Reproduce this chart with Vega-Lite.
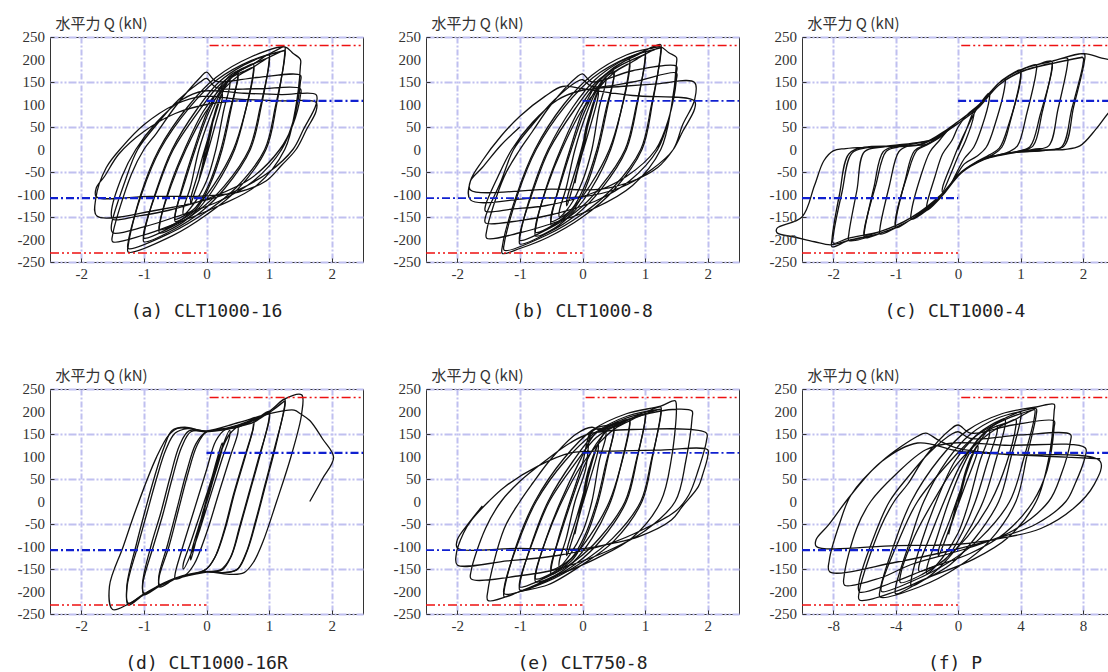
{
"$schema":"https://vega.github.io/schema/vega-lite/v6.json",
"background":"white",
"padding":{"left":17,"top":15,"right":0,"bottom":0},
"spacing":45,
"config":{
 "view":{"stroke":"#333","strokeWidth":1},
 "axis":{"labelFont":"Liberation Serif","labelFontSize":15,"labelColor":"#333","gridColor":"#c0c0f0","gridWidth":2,"tickColor":"#333","tickSize":-4,"labelPadding":8,"domain":false,"labelFlush":false,"labelOverlap":false,"titleFont":"Noto Sans CJK JP","titleFontWeight":"normal","titleColor":"#333","titleFontSize":15},
 "title":{"orient":"bottom","font":"DejaVu Sans Mono","fontSize":18,"fontWeight":"normal","color":"#222","offset":22,"anchor":"middle"},
 "line":{"color":"#111","strokeWidth":1.3,"interpolate":"catmull-rom","clip":true}
},
"datasets":{
"yl":[{"v":-250},{"v":-200},{"v":-150},{"v":-100},{"v":-50},{"v":0},{"v":50},{"v":100},{"v":150},{"v":200},{"v":250}],
"refR":[{"x1":0.05,"x2":2.5,"y":231},{"x1":-2.5,"x2":0,"y":-230}],
"refB":[{"x1":0,"x2":2.5,"y":108},{"x1":-2.5,"x2":0,"y":-108}],
"refRf":[{"x1":0.2,"x2":10,"y":231},{"x1":-10,"x2":0,"y":-230}],
"refBf":[{"x1":0,"x2":10,"y":108},{"x1":-10,"x2":0,"y":-108}],
"a":[{"x":0,"y":0},{"x":0.05,"y":40},{"x":0.12,"y":75},
{"x":0.1,"y":60},{"x":0.0,"y":10},{"x":-0.08,"y":-45},{"x":-0.12,"y":-70},{"x":-0.1,"y":-55},{"x":0.0,"y":-5},{"x":0.08,"y":45},{"x":0.12,"y":75},{"x":0.2,"y":110},{"x":0.25,"y":125},
{"x":0.25,"y":112},{"x":0.15,"y":60},{"x":0.05,"y":10},{"x":-0.1,"y":-60},{"x":-0.2,"y":-100},{"x":-0.25,"y":-120},{"x":-0.25,"y":-108},{"x":-0.15,"y":-60},{"x":-0.05,"y":-10},{"x":0.1,"y":60},{"x":0.2,"y":105},{"x":0.25,"y":125},{"x":0.3,"y":140},{"x":0.37,"y":155},
{"x":0.37,"y":140},{"x":0.28,"y":90},{"x":0.15,"y":0},{"x":0.0,"y":-70},{"x":-0.2,"y":-120},{"x":-0.37,"y":-145},{"x":-0.37,"y":-132},{"x":-0.26,"y":-85},{"x":-0.12,"y":0},{"x":0.05,"y":70},{"x":0.22,"y":125},{"x":0.37,"y":155},{"x":0.45,"y":168},{"x":0.5,"y":175},
{"x":0.5,"y":160},{"x":0.4,"y":95},{"x":0.25,"y":0},{"x":0.05,"y":-80},{"x":-0.15,"y":-130},{"x":-0.35,"y":-152},{"x":-0.5,"y":-160},{"x":-0.5,"y":-146},{"x":-0.38,"y":-80},{"x":-0.2,"y":0},{"x":0.0,"y":80},{"x":0.2,"y":135},{"x":0.38,"y":165},{"x":0.5,"y":175},{"x":0.62,"y":183},{"x":0.75,"y":190},
{"x":0.75,"y":175},{"x":0.63,"y":90},{"x":0.45,"y":0},{"x":0.15,"y":-80},{"x":-0.15,"y":-135},{"x":-0.45,"y":-168},{"x":-0.75,"y":-185},{"x":-0.75,"y":-170},{"x":-0.58,"y":-80},{"x":-0.35,"y":0},{"x":-0.05,"y":85},{"x":0.25,"y":140},{"x":0.5,"y":172},{"x":0.75,"y":190},{"x":0.88,"y":202},{"x":1.0,"y":212},
{"x":1.0,"y":197},{"x":0.88,"y":100},{"x":0.7,"y":0},{"x":0.3,"y":-85},{"x":-0.1,"y":-140},{"x":-0.55,"y":-180},{"x":-1.0,"y":-205},{"x":-1.0,"y":-190},{"x":-0.8,"y":-90},{"x":-0.55,"y":0},{"x":-0.15,"y":90},{"x":0.2,"y":150},{"x":0.6,"y":188},{"x":1.0,"y":212},{"x":1.12,"y":221},{"x":1.25,"y":228},
{"x":1.25,"y":213},{"x":1.12,"y":100},{"x":0.95,"y":0},{"x":0.5,"y":-88},{"x":0.0,"y":-145},{"x":-0.55,"y":-192},{"x":-1.25,"y":-228},{"x":-1.25,"y":-213},{"x":-1.05,"y":-100},{"x":-0.76,"y":0},{"x":-0.3,"y":95},{"x":0.15,"y":160},{"x":0.7,"y":205},{"x":1.25,"y":228},{"x":1.38,"y":214},{"x":1.5,"y":200},
{"x":1.5,"y":185},{"x":1.42,"y":90},{"x":1.25,"y":0},{"x":0.8,"y":-80},{"x":0.2,"y":-125},{"x":-0.5,"y":-165},{"x":-1.0,"y":-190},{"x":-1.5,"y":-205},{"x":-1.5,"y":-190},{"x":-1.2,"y":-55},{"x":-1.0,"y":0},{"x":-0.8,"y":36},{"x":-0.5,"y":95},{"x":-0.1,"y":160},{"x":0.0,"y":172},{"x":0.15,"y":152},{"x":0.8,"y":160},{"x":1.5,"y":165},
{"x":1.5,"y":150},{"x":1.4,"y":70},{"x":1.2,"y":0},{"x":0.75,"y":-70},{"x":0.2,"y":-115},{"x":-0.5,"y":-150},{"x":-1.0,"y":-172},{"x":-1.5,"y":-185},{"x":-1.52,"y":-170},{"x":-1.3,"y":-70},{"x":-1.1,"y":0},{"x":-0.8,"y":55},{"x":-0.45,"y":110},{"x":-0.1,"y":150},{"x":0.0,"y":158},{"x":0.15,"y":138},{"x":0.8,"y":135},{"x":1.5,"y":135},
{"x":1.5,"y":120},{"x":1.38,"y":55},{"x":1.17,"y":0},{"x":0.7,"y":-65},{"x":0.1,"y":-105},{"x":-0.6,"y":-135},{"x":-1.1,"y":-148},{"x":-1.5,"y":-155},{"x":-1.52,"y":-140},{"x":-1.35,"y":-60},{"x":-1.13,"y":0},{"x":-0.8,"y":60},{"x":-0.4,"y":110},{"x":-0.05,"y":130},{"x":0.6,"y":125},{"x":1.2,"y":122},{"x":1.75,"y":122},
{"x":1.75,"y":100},{"x":1.55,"y":45},{"x":1.38,"y":0},{"x":1.0,"y":-50},{"x":0.5,"y":-90},{"x":0.0,"y":-112},{"x":-0.8,"y":-135},{"x":-1.75,"y":-148},{"x":-1.77,"y":-110},{"x":-1.6,"y":-40},{"x":-1.34,"y":7},{"x":-1.0,"y":55},{"x":-0.5,"y":100},{"x":-0.07,"y":118},{"x":0.5,"y":112},{"x":1.2,"y":108},{"x":1.75,"y":105},
{"x":1.75,"y":85},{"x":1.6,"y":45},{"x":1.43,"y":0},{"x":1.2,"y":-35},{"x":0.95,"y":-70},{"x":0.5,"y":-95},{"x":0.0,"y":-103},{"x":-0.9,"y":-104},{"x":-1.76,"y":-105},{"x":-1.76,"y":-85},{"x":-1.63,"y":-60},{"x":-1.4,"y":-10},{"x":-1.0,"y":40},{"x":-0.5,"y":80},{"x":0.0,"y":100},{"x":0.5,"y":108}],
"a2":[{"x":0.5,"y":168},{"x":0.5,"y":155},{"x":0.38,"y":90},{"x":0.23,"y":0},{"x":0.03,"y":-80},{"x":-0.17,"y":-128},{"x":-0.37,"y":-148},{"x":-0.5,"y":-155},{"x":-0.5,"y":-142},{"x":-0.36,"y":-78},{"x":-0.18,"y":0},{"x":0.02,"y":78},{"x":0.22,"y":130},{"x":0.4,"y":160},{"x":0.5,"y":168},
{"x":0.62,"y":175},{"x":0.75,"y":182},{"x":0.75,"y":168},{"x":0.62,"y":85},{"x":0.43,"y":0},{"x":0.12,"y":-78},{"x":-0.18,"y":-130},{"x":-0.47,"y":-162},{"x":-0.75,"y":-178},{"x":-0.75,"y":-164},{"x":-0.56,"y":-78},{"x":-0.33,"y":0},{"x":-0.02,"y":82},{"x":0.28,"y":135},{"x":0.52,"y":165},{"x":0.75,"y":183},
{"x":0.88,"y":195},{"x":1.0,"y":204},{"x":1.0,"y":190},{"x":0.86,"y":95},{"x":0.68,"y":0},{"x":0.28,"y":-82},{"x":-0.12,"y":-135},{"x":-0.57,"y":-173},{"x":-1.0,"y":-197},{"x":-1.0,"y":-183},{"x":-0.78,"y":-86},{"x":-0.53,"y":0},{"x":-0.12,"y":86},{"x":0.22,"y":145},{"x":0.62,"y":182},{"x":1.0,"y":205},
{"x":1.12,"y":213},{"x":1.25,"y":220},{"x":1.25,"y":205},{"x":1.1,"y":95},{"x":0.93,"y":0},{"x":0.48,"y":-84},{"x":-0.02,"y":-140},{"x":-0.57,"y":-185},{"x":-1.25,"y":-220},{"x":-1.25,"y":-205},{"x":-1.03,"y":-96},{"x":-0.74,"y":0},{"x":-0.28,"y":92},{"x":0.17,"y":155},{"x":0.72,"y":198},{"x":1.25,"y":220}],
"b":[{"x":0,"y":0},{"x":0.05,"y":45},{"x":0.12,"y":80},
{"x":0.1,"y":65},{"x":0.0,"y":10},{"x":-0.08,"y":-45},{"x":-0.12,"y":-75},{"x":-0.1,"y":-60},{"x":0.0,"y":-5},{"x":0.08,"y":50},{"x":0.12,"y":80},{"x":0.2,"y":115},{"x":0.25,"y":130},
{"x":0.25,"y":118},{"x":0.1,"y":40},{"x":-0.05,"y":-30},{"x":-0.18,"y":-95},{"x":-0.25,"y":-125},{"x":-0.25,"y":-112},{"x":-0.1,"y":-40},{"x":0.05,"y":35},{"x":0.18,"y":100},{"x":0.25,"y":130},{"x":0.3,"y":145},{"x":0.37,"y":160},
{"x":0.37,"y":147},{"x":0.27,"y":95},{"x":0.15,"y":0},{"x":0.0,"y":-70},{"x":-0.2,"y":-125},{"x":-0.37,"y":-150},{"x":-0.37,"y":-137},{"x":-0.26,"y":-85},{"x":-0.12,"y":0},{"x":0.05,"y":75},{"x":0.22,"y":130},{"x":0.37,"y":160},{"x":0.45,"y":170},{"x":0.5,"y":175},
{"x":0.5,"y":160},{"x":0.4,"y":95},{"x":0.25,"y":0},{"x":0.05,"y":-85},{"x":-0.15,"y":-135},{"x":-0.35,"y":-158},{"x":-0.5,"y":-168},{"x":-0.5,"y":-153},{"x":-0.38,"y":-85},{"x":-0.2,"y":0},{"x":0.0,"y":85},{"x":0.2,"y":140},{"x":0.38,"y":168},{"x":0.5,"y":180},{"x":0.62,"y":192},{"x":0.75,"y":200},
{"x":0.75,"y":185},{"x":0.63,"y":95},{"x":0.45,"y":0},{"x":0.15,"y":-85},{"x":-0.15,"y":-140},{"x":-0.45,"y":-175},{"x":-0.75,"y":-192},{"x":-0.75,"y":-177},{"x":-0.58,"y":-85},{"x":-0.35,"y":0},{"x":-0.05,"y":90},{"x":0.25,"y":150},{"x":0.5,"y":182},{"x":0.75,"y":202},{"x":0.88,"y":210},{"x":1.0,"y":218},
{"x":1.0,"y":203},{"x":0.88,"y":105},{"x":0.7,"y":0},{"x":0.3,"y":-88},{"x":-0.1,"y":-145},{"x":-0.55,"y":-185},{"x":-1.0,"y":-210},{"x":-1.0,"y":-195},{"x":-0.8,"y":-90},{"x":-0.55,"y":0},{"x":-0.15,"y":95},{"x":0.2,"y":155},{"x":0.6,"y":195},{"x":1.0,"y":220},{"x":1.12,"y":228},{"x":1.25,"y":233},
{"x":1.25,"y":218},{"x":1.12,"y":105},{"x":0.95,"y":0},{"x":0.5,"y":-90},{"x":0.0,"y":-150},{"x":-0.55,"y":-195},{"x":-1.0,"y":-220},{"x":-1.28,"y":-231},{"x":-1.28,"y":-215},{"x":-1.05,"y":-100},{"x":-0.76,"y":0},{"x":-0.3,"y":100},{"x":0.15,"y":165},{"x":0.7,"y":210},{"x":1.1,"y":225},{"x":1.25,"y":228},{"x":1.38,"y":215},{"x":1.5,"y":205},
{"x":1.5,"y":190},{"x":1.42,"y":95},{"x":1.25,"y":0},{"x":0.8,"y":-80},{"x":0.2,"y":-130},{"x":-0.5,"y":-165},{"x":-1.0,"y":-185},{"x":-1.53,"y":-197},{"x":-1.53,"y":-180},{"x":-1.25,"y":-60},{"x":-1.0,"y":0},{"x":-0.8,"y":40},{"x":-0.5,"y":100},{"x":-0.1,"y":160},{"x":0.0,"y":168},{"x":0.15,"y":150},{"x":0.8,"y":175},{"x":1.5,"y":185},
{"x":1.5,"y":170},{"x":1.4,"y":80},{"x":1.2,"y":0},{"x":0.75,"y":-70},{"x":0.2,"y":-115},{"x":-0.5,"y":-145},{"x":-1.0,"y":-158},{"x":-1.55,"y":-163},{"x":-1.55,"y":-150},{"x":-1.3,"y":-70},{"x":-1.1,"y":0},{"x":-0.8,"y":55},{"x":-0.45,"y":110},{"x":-0.1,"y":150},{"x":0.0,"y":155},{"x":0.15,"y":140},{"x":0.8,"y":150},{"x":1.5,"y":170},
{"x":1.5,"y":155},{"x":1.38,"y":70},{"x":1.17,"y":0},{"x":0.7,"y":-60},{"x":0.1,"y":-100},{"x":-0.6,"y":-125},{"x":-1.1,"y":-132},{"x":-1.55,"y":-137},{"x":-1.55,"y":-125},{"x":-1.35,"y":-60},{"x":-1.13,"y":0},{"x":-0.8,"y":60},{"x":-0.4,"y":110},{"x":-0.05,"y":130},{"x":0.6,"y":140},{"x":1.2,"y":146},{"x":1.79,"y":149},
{"x":1.79,"y":110},{"x":1.6,"y":55},{"x":1.45,"y":0},{"x":1.1,"y":-45},{"x":0.6,"y":-85},{"x":0.0,"y":-105},{"x":-0.8,"y":-108},{"x":-1.79,"y":-112},{"x":-1.79,"y":-70},{"x":-1.6,"y":-25},{"x":-1.3,"y":30},{"x":-1.0,"y":74},{"x":-0.6,"y":118},{"x":-0.32,"y":140},{"x":0.0,"y":135},{"x":0.8,"y":120},{"x":1.79,"y":108},
{"x":1.79,"y":90},{"x":1.6,"y":40},{"x":1.45,"y":0},{"x":1.2,"y":-40},{"x":0.8,"y":-70},{"x":0.3,"y":-88},{"x":-0.5,"y":-88},{"x":-1.79,"y":-90},{"x":-1.79,"y":-70},{"x":-1.6,"y":-40},{"x":-1.3,"y":10},{"x":-1.0,"y":50}],
"b2":[{"x":0.5,"y":172},{"x":0.5,"y":158},{"x":0.38,"y":92},{"x":0.23,"y":0},{"x":0.03,"y":-82},{"x":-0.17,"y":-132},{"x":-0.37,"y":-153},{"x":-0.5,"y":-160},{"x":-0.5,"y":-146},{"x":-0.36,"y":-80},{"x":-0.18,"y":0},{"x":0.02,"y":80},{"x":0.22,"y":134},{"x":0.4,"y":165},{"x":0.5,"y":172},
{"x":0.62,"y":182},{"x":0.75,"y":190},{"x":0.75,"y":176},{"x":0.62,"y":88},{"x":0.43,"y":0},{"x":0.12,"y":-80},{"x":-0.18,"y":-135},{"x":-0.47,"y":-168},{"x":-0.75,"y":-184},{"x":-0.75,"y":-170},{"x":-0.56,"y":-80},{"x":-0.33,"y":0},{"x":-0.02,"y":85},{"x":0.28,"y":140},{"x":0.52,"y":172},{"x":0.75,"y":191},
{"x":0.88,"y":202},{"x":1.0,"y":210},{"x":1.0,"y":196},{"x":0.86,"y":98},{"x":0.68,"y":0},{"x":0.28,"y":-84},{"x":-0.12,"y":-140},{"x":-0.57,"y":-178},{"x":-1.0,"y":-202},{"x":-1.0,"y":-188},{"x":-0.78,"y":-88},{"x":-0.53,"y":0},{"x":-0.12,"y":90},{"x":0.22,"y":150},{"x":0.62,"y":188},{"x":1.0,"y":212},
{"x":1.12,"y":220},{"x":1.25,"y":226},{"x":1.25,"y":211},{"x":1.1,"y":98},{"x":0.93,"y":0},{"x":0.48,"y":-86},{"x":-0.02,"y":-145},{"x":-0.57,"y":-190},{"x":-1.25,"y":-224},{"x":-1.25,"y":-209},{"x":-1.03,"y":-98},{"x":-0.74,"y":0},{"x":-0.28,"y":96},{"x":0.17,"y":160},{"x":0.72,"y":204},{"x":1.25,"y":226}],
"c":[{"x":0,"y":0},{"x":0.12,"y":40},{"x":0.25,"y":85},
{"x":0.25,"y":75},{"x":0.12,"y":20},{"x":0.0,"y":-15},{"x":-0.12,"y":-55},{"x":-0.25,"y":-95},
{"x":-0.25,"y":-85},{"x":-0.1,"y":-30},{"x":0.0,"y":5},{"x":0.15,"y":50},{"x":0.32,"y":95},{"x":0.5,"y":125},
{"x":0.5,"y":112},{"x":0.38,"y":50},{"x":0.25,"y":5},{"x":0.1,"y":-20},{"x":0.0,"y":-45},{"x":-0.15,"y":-85},{"x":-0.3,"y":-110},{"x":-0.5,"y":-135},
{"x":-0.5,"y":-122},{"x":-0.37,"y":-60},{"x":-0.25,"y":-10},{"x":-0.1,"y":20},{"x":0.0,"y":50},{"x":0.15,"y":78},{"x":0.32,"y":98},{"x":0.5,"y":125},{"x":0.65,"y":147},{"x":0.75,"y":158},
{"x":0.75,"y":143},{"x":0.6,"y":60},{"x":0.45,"y":5},{"x":0.3,"y":-15},{"x":0.1,"y":-32},{"x":-0.1,"y":-75},{"x":-0.27,"y":-104},{"x":-0.5,"y":-135},{"x":-0.75,"y":-155},
{"x":-0.75,"y":-140},{"x":-0.6,"y":-60},{"x":-0.45,"y":-5},{"x":-0.3,"y":20},{"x":-0.15,"y":45},{"x":0.0,"y":62},{"x":0.15,"y":78},{"x":0.32,"y":95},{"x":0.5,"y":125},{"x":0.65,"y":147},{"x":0.8,"y":163},{"x":1.0,"y":177},
{"x":1.0,"y":162},{"x":0.85,"y":70},{"x":0.7,"y":5},{"x":0.55,"y":-12},{"x":0.3,"y":-28},{"x":0.05,"y":-52},{"x":-0.27,"y":-104},{"x":-0.5,"y":-135},{"x":-0.76,"y":-156},{"x":-1.0,"y":-174},
{"x":-1.0,"y":-160},{"x":-0.85,"y":-70},{"x":-0.7,"y":-3},{"x":-0.5,"y":12},{"x":-0.3,"y":28},{"x":-0.17,"y":45},{"x":0.0,"y":62},{"x":0.32,"y":95},{"x":0.65,"y":147},{"x":0.8,"y":163},{"x":1.0,"y":176},{"x":1.25,"y":188},
{"x":1.25,"y":173},{"x":1.1,"y":80},{"x":0.95,"y":8},{"x":0.8,"y":-6},{"x":0.42,"y":-22},{"x":0.05,"y":-52},{"x":-0.27,"y":-104},{"x":-0.76,"y":-156},{"x":-1.0,"y":-174},{"x":-1.25,"y":-188},
{"x":-1.25,"y":-174},{"x":-1.1,"y":-80},{"x":-0.95,"y":-5},{"x":-0.8,"y":8},{"x":-0.5,"y":12},{"x":-0.17,"y":45},{"x":0.0,"y":62},{"x":0.32,"y":95},{"x":0.65,"y":147},{"x":1.0,"y":177},{"x":1.25,"y":188},{"x":1.5,"y":196},
{"x":1.5,"y":180},{"x":1.35,"y":85},{"x":1.2,"y":8},{"x":1.0,"y":-3},{"x":0.42,"y":-20},{"x":0.05,"y":-52},{"x":-0.27,"y":-104},{"x":-0.76,"y":-156},{"x":-1.24,"y":-186},{"x":-1.5,"y":-196},
{"x":-1.5,"y":-182},{"x":-1.35,"y":-85},{"x":-1.2,"y":-5},{"x":-1.0,"y":7},{"x":-0.35,"y":25},{"x":-0.17,"y":45},{"x":0.0,"y":62},{"x":0.32,"y":95},{"x":0.65,"y":147},{"x":1.0,"y":177},{"x":1.5,"y":196},{"x":1.75,"y":203},
{"x":1.75,"y":188},{"x":1.6,"y":90},{"x":1.45,"y":8},{"x":1.2,"y":0},{"x":0.42,"y":-22},{"x":0.05,"y":-52},{"x":-0.27,"y":-104},{"x":-0.76,"y":-156},{"x":-1.24,"y":-186},{"x":-1.75,"y":-202},
{"x":-1.75,"y":-188},{"x":-1.62,"y":-90},{"x":-1.5,"y":-5},{"x":-1.2,"y":6},{"x":-0.35,"y":25},{"x":0.0,"y":62},{"x":0.32,"y":95},{"x":0.65,"y":147},{"x":1.0,"y":177},{"x":1.5,"y":196},{"x":2.02,"y":212},
{"x":2.02,"y":195},{"x":1.85,"y":95},{"x":1.7,"y":8},{"x":1.45,"y":-1},{"x":0.8,"y":-8},{"x":0.42,"y":-22},{"x":0.05,"y":-52},{"x":-0.27,"y":-104},{"x":-0.76,"y":-156},{"x":-1.24,"y":-186},{"x":-1.75,"y":-202},{"x":-2.02,"y":-216},
{"x":-2.02,"y":-200},{"x":-1.9,"y":-100},{"x":-1.75,"y":-10},{"x":-1.5,"y":5},{"x":-0.6,"y":12},{"x":-0.17,"y":45},{"x":0.0,"y":62},{"x":0.32,"y":95},{"x":0.65,"y":147},{"x":1.0,"y":177},{"x":1.5,"y":196},{"x":2.02,"y":213},
{"x":2.3,"y":203},{"x":2.6,"y":195},{"x":2.9,"y":185},{"x":2.9,"y":160},{"x":2.6,"y":110},{"x":2.4,"y":80},{"x":2.2,"y":44},{"x":1.95,"y":8},{"x":1.7,"y":0},{"x":1.2,"y":-2},{"x":0.42,"y":-22},{"x":0.05,"y":-52},{"x":-0.27,"y":-104},{"x":-0.76,"y":-156},{"x":-1.24,"y":-186},{"x":-1.75,"y":-202},{"x":-2.04,"y":-212},{"x":-2.3,"y":-205},{"x":-2.6,"y":-195},{"x":-2.9,"y":-185},
{"x":-2.9,"y":-175},{"x":-2.5,"y":-150},{"x":-2.3,"y":-80},{"x":-2.15,"y":-25},{"x":-2.0,"y":-3},{"x":-1.8,"y":2},{"x":-1.0,"y":8}],
"c2":[{"x":1.0,"y":170},{"x":1.0,"y":155},{"x":0.82,"y":60},{"x":0.66,"y":3},{"x":0.5,"y":-12},{"x":0.3,"y":-27},{"x":0.05,"y":-50},{"x":-0.27,"y":-100},{"x":-0.5,"y":-130},{"x":-0.76,"y":-152},{"x":-1.0,"y":-168},{"x":-1.0,"y":-153},{"x":-0.82,"y":-60},{"x":-0.66,"y":-2},{"x":-0.5,"y":10},{"x":-0.3,"y":26},{"x":-0.17,"y":42},{"x":0.0,"y":58},{"x":0.32,"y":92},{"x":0.65,"y":143},{"x":1.0,"y":172},{"x":1.25,"y":183},{"x":1.5,"y":190},
{"x":1.5,"y":175},{"x":1.32,"y":80},{"x":1.15,"y":6},{"x":0.95,"y":-4},{"x":0.42,"y":-20},{"x":0.05,"y":-50},{"x":-0.27,"y":-100},{"x":-0.76,"y":-152},{"x":-1.24,"y":-182},{"x":-1.5,"y":-190},{"x":-1.5,"y":-176},{"x":-1.32,"y":-80},{"x":-1.15,"y":-4},{"x":-0.95,"y":6},{"x":-0.35,"y":24},{"x":-0.17,"y":42},{"x":0.0,"y":58},{"x":0.32,"y":92},{"x":0.65,"y":143},{"x":1.0,"y":173},{"x":1.5,"y":191},{"x":1.75,"y":198},{"x":2.0,"y":204},
{"x":2.0,"y":190},{"x":1.82,"y":90},{"x":1.66,"y":6},{"x":1.4,"y":-2},{"x":0.8,"y":-8},{"x":0.42,"y":-21},{"x":0.05,"y":-50},{"x":-0.27,"y":-100},{"x":-0.76,"y":-152},{"x":-1.24,"y":-182},{"x":-1.75,"y":-197},{"x":-2.0,"y":-208},{"x":-2.0,"y":-193},{"x":-1.86,"y":-95},{"x":-1.7,"y":-8},{"x":-1.45,"y":4},{"x":-0.6,"y":11},{"x":-0.17,"y":42},{"x":0.0,"y":58},{"x":0.32,"y":92},{"x":0.65,"y":143},{"x":1.0,"y":173},{"x":1.5,"y":191},{"x":2.0,"y":205}],
"d":[{"x":0,"y":0},{"x":0.12,"y":70},
{"x":0.12,"y":60},{"x":0.0,"y":0},{"x":-0.12,"y":-70},{"x":-0.12,"y":-60},{"x":0.0,"y":5},{"x":0.15,"y":85},{"x":0.25,"y":130},
{"x":0.25,"y":118},{"x":0.1,"y":45},{"x":-0.05,"y":-20},{"x":-0.25,"y":-130},{"x":-0.25,"y":-118},{"x":-0.1,"y":-45},{"x":0.05,"y":20},{"x":0.25,"y":120},{"x":0.37,"y":158},
{"x":0.37,"y":145},{"x":0.25,"y":95},{"x":0.0,"y":-15},{"x":-0.2,"y":-100},{"x":-0.37,"y":-150},{"x":-0.37,"y":-138},{"x":-0.25,"y":-90},{"x":0.0,"y":15},{"x":0.2,"y":100},{"x":0.37,"y":150},{"x":0.5,"y":165},
{"x":0.5,"y":152},{"x":0.38,"y":100},{"x":0.2,"y":20},{"x":0.0,"y":-70},{"x":-0.2,"y":-140},{"x":-0.35,"y":-165},{"x":-0.5,"y":-172},{"x":-0.5,"y":-160},{"x":-0.4,"y":-110},{"x":-0.2,"y":-20},{"x":0.0,"y":70},{"x":0.15,"y":135},{"x":0.3,"y":160},{"x":0.5,"y":165},{"x":0.75,"y":180},
{"x":0.75,"y":165},{"x":0.62,"y":100},{"x":0.45,"y":20},{"x":0.3,"y":-60},{"x":0.15,"y":-120},{"x":0.0,"y":-150},{"x":-0.3,"y":-165},{"x":-0.5,"y":-172},{"x":-0.75,"y":-190},{"x":-0.76,"y":-170},{"x":-0.6,"y":-100},{"x":-0.45,"y":-20},{"x":-0.3,"y":60},{"x":-0.15,"y":125},{"x":0.0,"y":155},{"x":0.3,"y":162},{"x":0.5,"y":168},{"x":0.75,"y":180},{"x":1.0,"y":200},
{"x":1.0,"y":185},{"x":0.85,"y":100},{"x":0.7,"y":25},{"x":0.55,"y":-50},{"x":0.4,"y":-120},{"x":0.25,"y":-152},{"x":0.0,"y":-157},{"x":-0.5,"y":-172},{"x":-0.75,"y":-188},{"x":-1.0,"y":-207},{"x":-1.02,"y":-185},{"x":-0.85,"y":-100},{"x":-0.7,"y":-30},{"x":-0.55,"y":50},{"x":-0.4,"y":120},{"x":-0.25,"y":155},{"x":0.0,"y":157},{"x":0.5,"y":168},{"x":0.75,"y":182},{"x":1.0,"y":200},{"x":1.25,"y":228},
{"x":1.25,"y":215},{"x":1.1,"y":120},{"x":0.95,"y":40},{"x":0.8,"y":-40},{"x":0.65,"y":-110},{"x":0.5,"y":-150},{"x":0.3,"y":-158},{"x":0.0,"y":-157},{"x":-0.5,"y":-172},{"x":-1.0,"y":-207},{"x":-1.25,"y":-230},{"x":-1.27,"y":-190},{"x":-1.1,"y":-100},{"x":-0.95,"y":-25},{"x":-0.8,"y":50},{"x":-0.65,"y":115},{"x":-0.5,"y":152},{"x":-0.3,"y":162},{"x":0.0,"y":157},{"x":0.5,"y":170},{"x":1.0,"y":200},{"x":1.25,"y":228},{"x":1.52,"y":237},
{"x":1.52,"y":195},{"x":1.35,"y":100},{"x":1.12,"y":0},{"x":0.9,"y":-90},{"x":0.75,"y":-135},{"x":0.6,"y":-158},{"x":0.4,"y":-162},{"x":0.0,"y":-157},{"x":-0.5,"y":-172},{"x":-1.0,"y":-207},{"x":-1.25,"y":-228},{"x":-1.5,"y":-240},{"x":-1.55,"y":-188},{"x":-1.33,"y":-100},{"x":-1.12,"y":-15},{"x":-0.8,"y":98},{"x":-0.6,"y":148},{"x":-0.45,"y":163},{"x":-0.2,"y":160},{"x":0.0,"y":157},{"x":0.5,"y":175},{"x":1.0,"y":195},{"x":1.4,"y":203},{"x":1.5,"y":195},
{"x":1.65,"y":180},{"x":1.85,"y":140},{"x":2.03,"y":98},{"x":1.85,"y":50},{"x":1.65,"y":0}],
"d2":[{"x":0.75,"y":172},{"x":0.74,"y":160},{"x":0.6,"y":95},{"x":0.43,"y":15},{"x":0.28,"y":-65},{"x":0.13,"y":-125},{"x":-0.02,"y":-152},{"x":-0.3,"y":-163},{"x":-0.5,"y":-170},{"x":-0.75,"y":-185},{"x":-0.76,"y":-165},{"x":-0.62,"y":-95},{"x":-0.47,"y":-15},{"x":-0.32,"y":65},{"x":-0.17,"y":128},{"x":-0.02,"y":153},{"x":0.3,"y":160},{"x":0.5,"y":166},{"x":0.75,"y":176},{"x":1.0,"y":195},
{"x":1.0,"y":180},{"x":0.83,"y":95},{"x":0.68,"y":20},{"x":0.53,"y":-55},{"x":0.38,"y":-125},{"x":0.22,"y":-152},{"x":-0.02,"y":-156},{"x":-0.5,"y":-170},{"x":-0.75,"y":-186},{"x":-1.0,"y":-203},{"x":-1.02,"y":-180},{"x":-0.88,"y":-95},{"x":-0.73,"y":-25},{"x":-0.58,"y":55},{"x":-0.43,"y":125},{"x":-0.28,"y":157},{"x":0.0,"y":155},{"x":0.5,"y":166},{"x":0.75,"y":180},{"x":1.0,"y":197},{"x":1.25,"y":222},
{"x":1.25,"y":210},{"x":1.08,"y":115},{"x":0.93,"y":35},{"x":0.78,"y":-45},{"x":0.63,"y":-115},{"x":0.48,"y":-152},{"x":0.25,"y":-158},{"x":0.0,"y":-156},{"x":-0.5,"y":-170},{"x":-1.0,"y":-205},{"x":-1.25,"y":-226},{"x":-1.27,"y":-185},{"x":-1.12,"y":-95},{"x":-0.98,"y":-20},{"x":-0.83,"y":55},{"x":-0.68,"y":120},{"x":-0.55,"y":158},{"x":-0.35,"y":165},{"x":0.0,"y":156},{"x":0.5,"y":168},{"x":1.0,"y":198},{"x":1.25,"y":224}],
"e":[{"x":0,"y":0},{"x":0.05,"y":45},{"x":0.12,"y":80},
{"x":0.1,"y":62},{"x":0.0,"y":8},{"x":-0.08,"y":-45},{"x":-0.12,"y":-72},{"x":-0.1,"y":-58},{"x":0.0,"y":-5},{"x":0.08,"y":48},{"x":0.12,"y":80},{"x":0.2,"y":112},{"x":0.25,"y":128},
{"x":0.25,"y":115},{"x":0.1,"y":40},{"x":-0.05,"y":-30},{"x":-0.18,"y":-92},{"x":-0.25,"y":-120},{"x":-0.25,"y":-108},{"x":-0.1,"y":-38},{"x":0.05,"y":35},{"x":0.18,"y":100},{"x":0.25,"y":128},{"x":0.37,"y":155},
{"x":0.37,"y":142},{"x":0.27,"y":92},{"x":0.15,"y":0},{"x":0.0,"y":-68},{"x":-0.2,"y":-118},{"x":-0.37,"y":-145},{"x":-0.37,"y":-132},{"x":-0.26,"y":-82},{"x":-0.12,"y":0},{"x":0.05,"y":72},{"x":0.13,"y":150},{"x":0.2,"y":160},{"x":0.37,"y":163},{"x":0.5,"y":170},
{"x":0.5,"y":156},{"x":0.4,"y":92},{"x":0.25,"y":0},{"x":0.05,"y":-80},{"x":-0.15,"y":-128},{"x":-0.35,"y":-150},{"x":-0.5,"y":-162},{"x":-0.5,"y":-148},{"x":-0.38,"y":-80},{"x":-0.2,"y":0},{"x":0.0,"y":85},{"x":0.13,"y":155},{"x":0.25,"y":165},{"x":0.5,"y":172},{"x":0.75,"y":182},
{"x":0.75,"y":168},{"x":0.63,"y":90},{"x":0.45,"y":0},{"x":0.15,"y":-82},{"x":-0.15,"y":-135},{"x":-0.45,"y":-165},{"x":-0.75,"y":-178},{"x":-0.75,"y":-163},{"x":-0.58,"y":-82},{"x":-0.35,"y":0},{"x":-0.05,"y":88},{"x":0.2,"y":150},{"x":0.5,"y":170},{"x":0.75,"y":182},{"x":1.0,"y":197},
{"x":1.0,"y":182},{"x":0.88,"y":100},{"x":0.7,"y":0},{"x":0.3,"y":-85},{"x":-0.1,"y":-138},{"x":-0.55,"y":-175},{"x":-1.0,"y":-197},{"x":-1.0,"y":-182},{"x":-0.8,"y":-88},{"x":-0.55,"y":0},{"x":-0.15,"y":90},{"x":0.2,"y":150},{"x":0.6,"y":180},{"x":1.0,"y":198},{"x":1.25,"y":210},
{"x":1.25,"y":196},{"x":1.12,"y":100},{"x":0.95,"y":0},{"x":0.5,"y":-88},{"x":0.0,"y":-140},{"x":-0.55,"y":-185},{"x":-1.0,"y":-200},{"x":-1.25,"y":-212},{"x":-1.25,"y":-197},{"x":-1.05,"y":-95},{"x":-0.76,"y":0},{"x":-0.3,"y":95},{"x":0.15,"y":158},{"x":0.7,"y":195},{"x":1.25,"y":212},{"x":1.48,"y":224},
{"x":1.5,"y":210},{"x":1.42,"y":95},{"x":1.25,"y":0},{"x":0.8,"y":-80},{"x":0.2,"y":-128},{"x":-0.5,"y":-170},{"x":-1.0,"y":-200},{"x":-1.51,"y":-220},{"x":-1.51,"y":-197},{"x":-1.25,"y":-60},{"x":-1.0,"y":0},{"x":-0.8,"y":40},{"x":-0.5,"y":95},{"x":-0.1,"y":150},{"x":0.15,"y":165},{"x":0.3,"y":158},{"x":0.9,"y":190},{"x":1.5,"y":205},{"x":1.75,"y":201},
{"x":1.75,"y":185},{"x":1.65,"y":90},{"x":1.48,"y":0},{"x":1.0,"y":-65},{"x":0.4,"y":-110},{"x":-0.4,"y":-150},{"x":-1.0,"y":-165},{"x":-1.78,"y":-172},{"x":-1.78,"y":-155},{"x":-1.55,"y":-60},{"x":-1.3,"y":0},{"x":-1.0,"y":45},{"x":-0.6,"y":90},{"x":-0.2,"y":130},{"x":0.1,"y":150},{"x":0.8,"y":160},{"x":1.98,"y":152},
{"x":1.98,"y":135},{"x":1.85,"y":70},{"x":1.7,"y":15},{"x":1.5,"y":-20},{"x":1.0,"y":-60},{"x":0.4,"y":-95},{"x":-0.4,"y":-120},{"x":-1.2,"y":-132},{"x":-2.0,"y":-141},{"x":-2.02,"y":-120},{"x":-1.9,"y":-70},{"x":-1.77,"y":-41},{"x":-1.5,"y":0},{"x":-1.24,"y":33},{"x":-0.72,"y":78},{"x":-0.19,"y":108},{"x":0.5,"y":112},{"x":1.2,"y":114},{"x":2.0,"y":115},
{"x":2.0,"y":100},{"x":1.92,"y":60},{"x":1.85,"y":33},{"x":1.6,"y":-10},{"x":1.42,"y":-41},{"x":0.9,"y":-78},{"x":0.48,"y":-93},{"x":0.0,"y":-105},{"x":-1.0,"y":-104},{"x":-2.0,"y":-103},{"x":-2.0,"y":-85},{"x":-1.8,"y":-45},{"x":-1.6,"y":-10}],
"e2":[{"x":0.5,"y":165},{"x":0.5,"y":152},{"x":0.38,"y":88},{"x":0.23,"y":0},{"x":0.03,"y":-78},{"x":-0.17,"y":-125},{"x":-0.37,"y":-145},{"x":-0.5,"y":-152},{"x":-0.5,"y":-140},{"x":-0.36,"y":-76},{"x":-0.18,"y":0},{"x":0.02,"y":76},{"x":0.22,"y":128},{"x":0.4,"y":158},{"x":0.5,"y":165},
{"x":0.62,"y":172},{"x":0.75,"y":178},{"x":0.75,"y":164},{"x":0.62,"y":83},{"x":0.43,"y":0},{"x":0.12,"y":-76},{"x":-0.18,"y":-128},{"x":-0.47,"y":-158},{"x":-0.75,"y":-172},{"x":-0.75,"y":-158},{"x":-0.56,"y":-76},{"x":-0.33,"y":0},{"x":-0.02,"y":80},{"x":0.28,"y":132},{"x":0.52,"y":162},{"x":0.75,"y":179},
{"x":0.88,"y":188},{"x":1.0,"y":193},{"x":1.0,"y":179},{"x":0.86,"y":92},{"x":0.68,"y":0},{"x":0.28,"y":-80},{"x":-0.12,"y":-132},{"x":-0.57,"y":-168},{"x":-1.0,"y":-190},{"x":-1.0,"y":-176},{"x":-0.78,"y":-84},{"x":-0.53,"y":0},{"x":-0.12,"y":84},{"x":0.22,"y":142},{"x":0.62,"y":176},{"x":1.0,"y":195},
{"x":1.12,"y":200},{"x":1.25,"y":204},{"x":1.25,"y":190},{"x":1.1,"y":92},{"x":0.93,"y":0},{"x":0.48,"y":-82},{"x":-0.02,"y":-136},{"x":-0.57,"y":-178},{"x":-1.25,"y":-205},{"x":-1.25,"y":-190},{"x":-1.03,"y":-92},{"x":-0.74,"y":0},{"x":-0.28,"y":90},{"x":0.17,"y":150},{"x":0.72,"y":190},{"x":1.25,"y":205}],
"f":[{"x":0,"y":0},{"x":0.3,"y":45},{"x":0.6,"y":80},
{"x":0.5,"y":62},{"x":0.0,"y":8},{"x":-0.4,"y":-45},{"x":-0.6,"y":-72},{"x":-0.5,"y":-58},{"x":0.0,"y":-5},{"x":0.4,"y":48},{"x":0.6,"y":80},{"x":1.0,"y":112},{"x":1.25,"y":125},
{"x":1.25,"y":112},{"x":0.5,"y":40},{"x":-0.25,"y":-30},{"x":-0.9,"y":-92},{"x":-1.25,"y":-120},{"x":-1.25,"y":-108},{"x":-0.5,"y":-38},{"x":0.25,"y":35},{"x":0.9,"y":100},{"x":1.25,"y":125},{"x":2.0,"y":160},
{"x":2.0,"y":147},{"x":1.4,"y":90},{"x":0.7,"y":0},{"x":0.0,"y":-70},{"x":-1.0,"y":-125},{"x":-2.0,"y":-160},{"x":-2.0,"y":-147},{"x":-1.4,"y":-85},{"x":-0.6,"y":0},{"x":0.3,"y":78},{"x":1.2,"y":135},{"x":2.0,"y":162},{"x":3.0,"y":182},
{"x":3.0,"y":168},{"x":2.4,"y":90},{"x":1.6,"y":0},{"x":0.3,"y":-85},{"x":-1.0,"y":-140},{"x":-2.0,"y":-170},{"x":-3.0,"y":-188},{"x":-3.0,"y":-173},{"x":-2.3,"y":-85},{"x":-1.4,"y":0},{"x":-0.2,"y":90},{"x":1.2,"y":148},{"x":2.2,"y":172},{"x":3.0,"y":185},{"x":4.0,"y":198},
{"x":4.0,"y":183},{"x":3.4,"y":100},{"x":2.6,"y":0},{"x":1.0,"y":-85},{"x":-0.5,"y":-140},{"x":-2.5,"y":-180},{"x":-4.0,"y":-205},{"x":-4.0,"y":-190},{"x":-3.1,"y":-90},{"x":-2.2,"y":0},{"x":-0.7,"y":92},{"x":0.8,"y":150},{"x":2.5,"y":185},{"x":4.0,"y":200},{"x":5.0,"y":206},
{"x":5.0,"y":192},{"x":4.4,"y":100},{"x":3.7,"y":0},{"x":2.0,"y":-88},{"x":0.0,"y":-145},{"x":-2.5,"y":-190},{"x":-5.0,"y":-212},{"x":-5.0,"y":-197},{"x":-4.1,"y":-95},{"x":-3.0,"y":0},{"x":-1.2,"y":95},{"x":0.6,"y":158},{"x":2.8,"y":195},{"x":5.0,"y":210},{"x":6.15,"y":216},
{"x":6.15,"y":200},{"x":5.8,"y":95},{"x":5.0,"y":0},{"x":3.2,"y":-80},{"x":1.0,"y":-128},{"x":-2.0,"y":-170},{"x":-4.0,"y":-200},{"x":-6.32,"y":-219},{"x":-6.32,"y":-198},{"x":-5.0,"y":-60},{"x":-4.1,"y":0},{"x":-3.2,"y":40},{"x":-2.1,"y":100},{"x":-0.5,"y":160},{"x":0.0,"y":170},{"x":0.8,"y":152},{"x":3.5,"y":170},{"x":6.15,"y":179},
{"x":6.15,"y":165},{"x":5.7,"y":70},{"x":4.8,"y":0},{"x":3.0,"y":-70},{"x":0.8,"y":-115},{"x":-2.0,"y":-150},{"x":-4.2,"y":-180},{"x":-6.32,"y":-201},{"x":-6.35,"y":-180},{"x":-5.3,"y":-70},{"x":-4.4,"y":0},{"x":-3.2,"y":55},{"x":-1.8,"y":110},{"x":-0.4,"y":150},{"x":0.0,"y":155},{"x":0.8,"y":140},{"x":4.0,"y":148},{"x":7.2,"y":149},
{"x":7.2,"y":135},{"x":6.6,"y":60},{"x":5.8,"y":0},{"x":3.5,"y":-65},{"x":0.5,"y":-105},{"x":-3.0,"y":-140},{"x":-5.0,"y":-170},{"x":-7.27,"y":-186},{"x":-7.3,"y":-165},{"x":-6.5,"y":-60},{"x":-5.6,"y":0},{"x":-4.0,"y":60},{"x":-2.07,"y":115},{"x":-0.3,"y":130},{"x":3.0,"y":125},{"x":8.15,"y":119},
{"x":8.1,"y":95},{"x":7.5,"y":40},{"x":6.9,"y":0},{"x":5.0,"y":-50},{"x":2.5,"y":-82},{"x":0.0,"y":-105},{"x":-4.0,"y":-135},{"x":-8.23,"y":-156},{"x":-8.25,"y":-130},{"x":-7.6,"y":-50},{"x":-6.85,"y":15},{"x":-4.9,"y":89},{"x":-2.6,"y":145},{"x":-2.07,"y":152},{"x":-1.2,"y":135},{"x":0.0,"y":118},{"x":3.0,"y":105},{"x":9.1,"y":89},
{"x":8.7,"y":37},{"x":7.4,"y":-15},{"x":5.3,"y":-60},{"x":2.7,"y":-82},{"x":0.0,"y":-95},{"x":-4.0,"y":-98},{"x":-9.08,"y":-100},{"x":-9.1,"y":-85},{"x":-8.3,"y":-52},{"x":-6.85,"y":15},{"x":-4.9,"y":89},{"x":-2.6,"y":130},{"x":0.0,"y":112},{"x":3.0,"y":105},{"x":6.0,"y":100},{"x":9.1,"y":95}],
"f2":[{"x":2.5,"y":168},{"x":2.5,"y":155},{"x":1.9,"y":90},{"x":1.1,"y":0},{"x":0.1,"y":-80},{"x":-0.8,"y":-128},{"x":-1.8,"y":-148},{"x":-2.5,"y":-155},{"x":-2.5,"y":-142},{"x":-1.8,"y":-78},{"x":-0.9,"y":0},{"x":0.1,"y":78},{"x":1.1,"y":130},{"x":2.0,"y":160},{"x":2.5,"y":168},
{"x":3.1,"y":175},{"x":3.7,"y":182},{"x":3.7,"y":168},{"x":3.1,"y":85},{"x":2.1,"y":0},{"x":0.6,"y":-78},{"x":-0.9,"y":-130},{"x":-2.3,"y":-162},{"x":-3.7,"y":-180},{"x":-3.7,"y":-165},{"x":-2.8,"y":-78},{"x":-1.6,"y":0},{"x":-0.1,"y":82},{"x":1.4,"y":135},{"x":2.6,"y":165},{"x":3.7,"y":183},
{"x":4.3,"y":195},{"x":4.9,"y":204},{"x":4.9,"y":190},{"x":4.2,"y":95},{"x":3.3,"y":0},{"x":1.4,"y":-82},{"x":-0.6,"y":-135},{"x":-2.8,"y":-175},{"x":-4.9,"y":-200},{"x":-4.9,"y":-185},{"x":-3.8,"y":-86},{"x":-2.6,"y":0},{"x":-0.6,"y":86},{"x":1.1,"y":145},{"x":3.0,"y":182},{"x":4.9,"y":205}]
},
"vconcat":[
{"hconcat":[
{"width":313,"height":225,"title":{"text":"(a)  CLT1000-16"},"layer":[
 {"data":{"name":"a"},"mark":"line","encoding":{
  "x":{"field":"x","type":"quantitative","scale":{"domain":[-2.5,2.5],"nice":false,"zero":false},"axis":{"values":[-2,-1.5,-1,-0.5,0,0.5,1,1.5,2],"labelExpr":"datum.value % 1 === 0 ? toString(datum.value) : ''","title":null,"gridDash":{"condition":{"test":"datum.value % 1 === 0","value":[6,2,2,2]},"value":[]}}},
  "y":{"field":"y","type":"quantitative","scale":{"domain":[-250,250],"nice":false,"zero":false},"axis":{"values":[-250,-200,-150,-100,-50,0,50,100,150,200,250],"labels":false,"title":"水平力 Q (kN)","titleAngle":0,"titleAlign":"left","titleBaseline":"bottom","titleX":5,"titleY":-6,"gridDash":[8,2,2,2,2,2]}},
  "order":{"value":null}}},
 {"data":{"name":"a2"},"mark":"line","encoding":{"x":{"field":"x","type":"quantitative"},"y":{"field":"y","type":"quantitative"},"order":{"value":null}}},
 {"mark":{"type":"rule","color":"#222","strokeWidth":1},"encoding":{"y":{"datum":0,"type":"quantitative"}}},
 {"mark":{"type":"rule","color":"#222","strokeWidth":1},"encoding":{"x":{"datum":0,"type":"quantitative"}}},
 {"data":{"name":"refR"},"mark":{"type":"rule","color":"#ee1111","strokeWidth":1.6,"strokeDash":[9,3,2,3,2,3],"clip":true},"encoding":{"x":{"field":"x1","type":"quantitative"},"x2":{"field":"x2"},"y":{"field":"y","type":"quantitative"}}},
 {"data":{"name":"refB"},"mark":{"type":"rule","color":"#1020d0","strokeWidth":2.4,"strokeDash":[8,3,2,3],"clip":true},"encoding":{"x":{"field":"x1","type":"quantitative"},"x2":{"field":"x2"},"y":{"field":"y","type":"quantitative"}}},
 {"mark":{"type":"text","align":"right","baseline":"middle","font":"Noto Sans CJK JP","fontSize":15,"color":"#333"},"encoding":{"x":{"datum":2.45,"type":"quantitative"},"y":{"datum":-208,"type":"quantitative"},"text":{"value":"変形角R (%)"}}},
 {"data":{"name":"yl"},"mark":{"type":"text","align":"right","baseline":"middle","dx":-5,"font":"Liberation Serif","fontSize":15,"color":"#333"},"encoding":{"x":{"datum":-2.5,"type":"quantitative"},"y":{"field":"v","type":"quantitative"},"text":{"field":"v","type":"nominal"}}}
]},
{"width":313,"height":225,"title":{"text":"(b)  CLT1000-8"},"layer":[
 {"data":{"name":"b"},"mark":"line","encoding":{
  "x":{"field":"x","type":"quantitative","scale":{"domain":[-2.5,2.5],"nice":false,"zero":false},"axis":{"values":[-2,-1.5,-1,-0.5,0,0.5,1,1.5,2],"labelExpr":"datum.value % 1 === 0 ? toString(datum.value) : ''","title":null,"gridDash":{"condition":{"test":"datum.value % 1 === 0","value":[6,2,2,2]},"value":[]}}},
  "y":{"field":"y","type":"quantitative","scale":{"domain":[-250,250],"nice":false,"zero":false},"axis":{"values":[-250,-200,-150,-100,-50,0,50,100,150,200,250],"labels":false,"title":"水平力 Q (kN)","titleAngle":0,"titleAlign":"left","titleBaseline":"bottom","titleX":5,"titleY":-6,"gridDash":[8,2,2,2,2,2]}},
  "order":{"value":null}}},
 {"data":{"name":"b2"},"mark":"line","encoding":{"x":{"field":"x","type":"quantitative"},"y":{"field":"y","type":"quantitative"},"order":{"value":null}}},
 {"mark":{"type":"rule","color":"#222","strokeWidth":1},"encoding":{"y":{"datum":0,"type":"quantitative"}}},
 {"mark":{"type":"rule","color":"#222","strokeWidth":1},"encoding":{"x":{"datum":0,"type":"quantitative"}}},
 {"data":{"name":"refR"},"mark":{"type":"rule","color":"#ee1111","strokeWidth":1.6,"strokeDash":[9,3,2,3,2,3],"clip":true},"encoding":{"x":{"field":"x1","type":"quantitative"},"x2":{"field":"x2"},"y":{"field":"y","type":"quantitative"}}},
 {"data":{"name":"refB"},"mark":{"type":"rule","color":"#1020d0","strokeWidth":1.6,"strokeDash":[8,3,2,3],"clip":true},"encoding":{"x":{"field":"x1","type":"quantitative"},"x2":{"field":"x2"},"y":{"field":"y","type":"quantitative"}}},
 {"mark":{"type":"text","align":"right","baseline":"middle","font":"Noto Sans CJK JP","fontSize":15,"color":"#333"},"encoding":{"x":{"datum":2.45,"type":"quantitative"},"y":{"datum":-208,"type":"quantitative"},"text":{"value":"変形角R (%)"}}},
 {"data":{"name":"yl"},"mark":{"type":"text","align":"right","baseline":"middle","dx":-5,"font":"Liberation Serif","fontSize":15,"color":"#333"},"encoding":{"x":{"datum":-2.5,"type":"quantitative"},"y":{"field":"v","type":"quantitative"},"text":{"field":"v","type":"nominal"}}}
]},
{"width":306,"height":225,"title":{"text":"(c)  CLT1000-4"},"layer":[
 {"data":{"name":"c"},"mark":"line","encoding":{
  "x":{"field":"x","type":"quantitative","scale":{"domain":[-2.5,2.4],"nice":false,"zero":false},"axis":{"values":[-2,-1.5,-1,-0.5,0,0.5,1,1.5,2],"labelExpr":"datum.value % 1 === 0 ? toString(datum.value) : ''","title":null,"gridDash":{"condition":{"test":"datum.value % 1 === 0","value":[6,2,2,2]},"value":[]}}},
  "y":{"field":"y","type":"quantitative","scale":{"domain":[-250,250],"nice":false,"zero":false},"axis":{"values":[-250,-200,-150,-100,-50,0,50,100,150,200,250],"labels":false,"title":"水平力 Q (kN)","titleAngle":0,"titleAlign":"left","titleBaseline":"bottom","titleX":5,"titleY":-6,"gridDash":[8,2,2,2,2,2]}},
  "order":{"value":null}}},
 {"data":{"name":"c2"},"mark":"line","encoding":{"x":{"field":"x","type":"quantitative"},"y":{"field":"y","type":"quantitative"},"order":{"value":null}}},
 {"mark":{"type":"rule","color":"#222","strokeWidth":1},"encoding":{"y":{"datum":0,"type":"quantitative"}}},
 {"mark":{"type":"rule","color":"#222","strokeWidth":1},"encoding":{"x":{"datum":0,"type":"quantitative"}}},
 {"data":{"name":"refR"},"mark":{"type":"rule","color":"#ee1111","strokeWidth":1.6,"strokeDash":[9,3,2,3,2,3],"clip":true},"encoding":{"x":{"field":"x1","type":"quantitative"},"x2":{"field":"x2"},"y":{"field":"y","type":"quantitative"}}},
 {"data":{"name":"refB"},"mark":{"type":"rule","color":"#1020d0","strokeWidth":2.4,"strokeDash":[8,3,2,3],"clip":true},"encoding":{"x":{"field":"x1","type":"quantitative"},"x2":{"field":"x2"},"y":{"field":"y","type":"quantitative"}}},
 {"mark":{"type":"text","align":"right","baseline":"middle","font":"Noto Sans CJK JP","fontSize":15,"color":"#333"},"encoding":{"x":{"datum":2.4,"type":"quantitative"},"y":{"datum":-208,"type":"quantitative"},"text":{"value":"変形角R (%)"}}},
 {"data":{"name":"yl"},"mark":{"type":"text","align":"right","baseline":"middle","dx":-5,"font":"Liberation Serif","fontSize":15,"color":"#333"},"encoding":{"x":{"datum":-2.5,"type":"quantitative"},"y":{"field":"v","type":"quantitative"},"text":{"field":"v","type":"nominal"}}}
]}
],"spacing":29},
{"hconcat":[
{"width":313,"height":225,"title":{"text":"(d)  CLT1000-16R"},"layer":[
 {"data":{"name":"d"},"mark":"line","encoding":{
  "x":{"field":"x","type":"quantitative","scale":{"domain":[-2.5,2.5],"nice":false,"zero":false},"axis":{"values":[-2,-1.5,-1,-0.5,0,0.5,1,1.5,2],"labelExpr":"datum.value % 1 === 0 ? toString(datum.value) : ''","title":null,"gridDash":{"condition":{"test":"datum.value % 1 === 0","value":[6,2,2,2]},"value":[]}}},
  "y":{"field":"y","type":"quantitative","scale":{"domain":[-250,250],"nice":false,"zero":false},"axis":{"values":[-250,-200,-150,-100,-50,0,50,100,150,200,250],"labels":false,"title":"水平力 Q (kN)","titleAngle":0,"titleAlign":"left","titleBaseline":"bottom","titleX":5,"titleY":-6,"gridDash":[8,2,2,2,2,2]}},
  "order":{"value":null}}},
 {"data":{"name":"d2"},"mark":"line","encoding":{"x":{"field":"x","type":"quantitative"},"y":{"field":"y","type":"quantitative"},"order":{"value":null}}},
 {"mark":{"type":"rule","color":"#222","strokeWidth":1},"encoding":{"y":{"datum":0,"type":"quantitative"}}},
 {"mark":{"type":"rule","color":"#222","strokeWidth":1},"encoding":{"x":{"datum":0,"type":"quantitative"}}},
 {"data":{"name":"refR"},"mark":{"type":"rule","color":"#ee1111","strokeWidth":1.6,"strokeDash":[9,3,2,3,2,3],"clip":true},"encoding":{"x":{"field":"x1","type":"quantitative"},"x2":{"field":"x2"},"y":{"field":"y","type":"quantitative"}}},
 {"data":{"name":"refB"},"mark":{"type":"rule","color":"#1020d0","strokeWidth":2.4,"strokeDash":[8,3,2,3],"clip":true},"encoding":{"x":{"field":"x1","type":"quantitative"},"x2":{"field":"x2"},"y":{"field":"y","type":"quantitative"}}},
 {"mark":{"type":"text","align":"right","baseline":"middle","font":"Noto Sans CJK JP","fontSize":15,"color":"#333"},"encoding":{"x":{"datum":2.45,"type":"quantitative"},"y":{"datum":-208,"type":"quantitative"},"text":{"value":"変形角R (%)"}}},
 {"data":{"name":"yl"},"mark":{"type":"text","align":"right","baseline":"middle","dx":-5,"font":"Liberation Serif","fontSize":15,"color":"#333"},"encoding":{"x":{"datum":-2.5,"type":"quantitative"},"y":{"field":"v","type":"quantitative"},"text":{"field":"v","type":"nominal"}}}
]},
{"width":313,"height":225,"title":{"text":"(e)  CLT750-8"},"layer":[
 {"data":{"name":"e"},"mark":"line","encoding":{
  "x":{"field":"x","type":"quantitative","scale":{"domain":[-2.5,2.5],"nice":false,"zero":false},"axis":{"values":[-2,-1.5,-1,-0.5,0,0.5,1,1.5,2],"labelExpr":"datum.value % 1 === 0 ? toString(datum.value) : ''","title":null,"gridDash":{"condition":{"test":"datum.value % 1 === 0","value":[6,2,2,2]},"value":[]}}},
  "y":{"field":"y","type":"quantitative","scale":{"domain":[-250,250],"nice":false,"zero":false},"axis":{"values":[-250,-200,-150,-100,-50,0,50,100,150,200,250],"labels":false,"title":"水平力 Q (kN)","titleAngle":0,"titleAlign":"left","titleBaseline":"bottom","titleX":5,"titleY":-6,"gridDash":[8,2,2,2,2,2]}},
  "order":{"value":null}}},
 {"data":{"name":"e2"},"mark":"line","encoding":{"x":{"field":"x","type":"quantitative"},"y":{"field":"y","type":"quantitative"},"order":{"value":null}}},
 {"mark":{"type":"rule","color":"#222","strokeWidth":1},"encoding":{"y":{"datum":0,"type":"quantitative"}}},
 {"mark":{"type":"rule","color":"#222","strokeWidth":1},"encoding":{"x":{"datum":0,"type":"quantitative"}}},
 {"data":{"name":"refR"},"mark":{"type":"rule","color":"#ee1111","strokeWidth":1.6,"strokeDash":[9,3,2,3,2,3],"clip":true},"encoding":{"x":{"field":"x1","type":"quantitative"},"x2":{"field":"x2"},"y":{"field":"y","type":"quantitative"}}},
 {"data":{"name":"refB"},"mark":{"type":"rule","color":"#1020d0","strokeWidth":1.6,"strokeDash":[8,3,2,3],"clip":true},"encoding":{"x":{"field":"x1","type":"quantitative"},"x2":{"field":"x2"},"y":{"field":"y","type":"quantitative"}}},
 {"mark":{"type":"text","align":"right","baseline":"middle","font":"Noto Sans CJK JP","fontSize":15,"color":"#333"},"encoding":{"x":{"datum":2.45,"type":"quantitative"},"y":{"datum":-208,"type":"quantitative"},"text":{"value":"変形角R (%)"}}},
 {"data":{"name":"yl"},"mark":{"type":"text","align":"right","baseline":"middle","dx":-5,"font":"Liberation Serif","fontSize":15,"color":"#333"},"encoding":{"x":{"datum":-2.5,"type":"quantitative"},"y":{"field":"v","type":"quantitative"},"text":{"field":"v","type":"nominal"}}}
]},
{"width":306,"height":225,"title":{"text":"(f)  P"},"layer":[
 {"data":{"name":"f"},"mark":"line","encoding":{
  "x":{"field":"x","type":"quantitative","scale":{"domain":[-10,9.6],"nice":false,"zero":false},"axis":{"values":[-8,-6,-4,-2,0,2,4,6,8],"labelExpr":"datum.value % 4 === 0 ? toString(datum.value) : ''","title":null,"gridDash":{"condition":{"test":"datum.value % 4 === 0","value":[6,2,2,2]},"value":[]}}},
  "y":{"field":"y","type":"quantitative","scale":{"domain":[-250,250],"nice":false,"zero":false},"axis":{"values":[-250,-200,-150,-100,-50,0,50,100,150,200,250],"labels":false,"title":"水平力 Q (kN)","titleAngle":0,"titleAlign":"left","titleBaseline":"bottom","titleX":5,"titleY":-6,"gridDash":[8,2,2,2,2,2]}},
  "order":{"value":null}}},
 {"data":{"name":"f2"},"mark":"line","encoding":{"x":{"field":"x","type":"quantitative"},"y":{"field":"y","type":"quantitative"},"order":{"value":null}}},
 {"mark":{"type":"rule","color":"#222","strokeWidth":1},"encoding":{"y":{"datum":0,"type":"quantitative"}}},
 {"mark":{"type":"rule","color":"#222","strokeWidth":1},"encoding":{"x":{"datum":0,"type":"quantitative"}}},
 {"data":{"name":"refRf"},"mark":{"type":"rule","color":"#ee1111","strokeWidth":1.6,"strokeDash":[9,3,2,3,2,3],"clip":true},"encoding":{"x":{"field":"x1","type":"quantitative"},"x2":{"field":"x2"},"y":{"field":"y","type":"quantitative"}}},
 {"data":{"name":"refBf"},"mark":{"type":"rule","color":"#1020d0","strokeWidth":2.4,"strokeDash":[8,3,2,3],"clip":true},"encoding":{"x":{"field":"x1","type":"quantitative"},"x2":{"field":"x2"},"y":{"field":"y","type":"quantitative"}}},
 {"mark":{"type":"text","align":"right","baseline":"middle","font":"Noto Sans CJK JP","fontSize":15,"color":"#333"},"encoding":{"x":{"datum":9.6,"type":"quantitative"},"y":{"datum":-208,"type":"quantitative"},"text":{"value":"せん断変形角 τ(%)"}}},
 {"data":{"name":"yl"},"mark":{"type":"text","align":"right","baseline":"middle","dx":-5,"font":"Liberation Serif","fontSize":15,"color":"#333"},"encoding":{"x":{"datum":-10,"type":"quantitative"},"y":{"field":"v","type":"quantitative"},"text":{"field":"v","type":"nominal"}}}
]}
],"spacing":29}
]
}
